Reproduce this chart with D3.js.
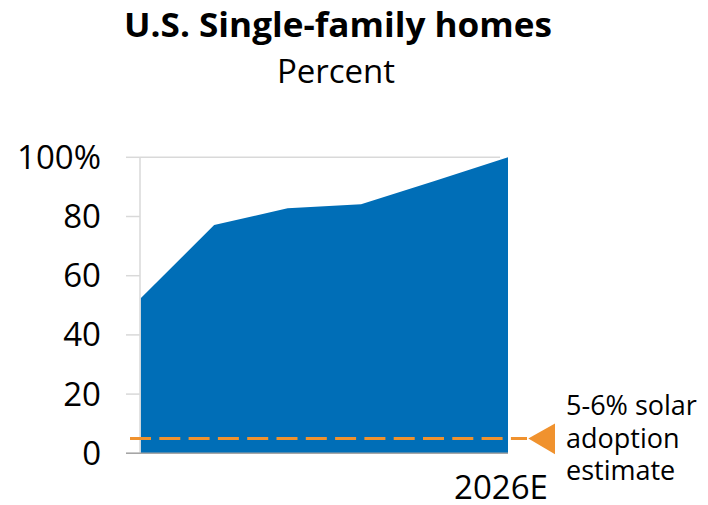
<!DOCTYPE html>
<html><head><meta charset="utf-8">
<script src="https://cdn.jsdelivr.net/npm/d3@7"></script>
<style>body{margin:0;background:#fff}svg{display:block}text{font-family:"Open Sans","Noto Sans",sans-serif;fill:#000}</style>
</head><body>
<svg id="c" width="708" height="505"></svg>
<script>
const categories = ["c1", "c2", "c3", "c4", "c5", "2026E"];
const values = [52.4, 77.1, 82.8, 84.1, 92, 100];
const yTicks = [0, 20, 40, 60, 80, 100];
const yTickLabels = ["0", "20", "40", "60", "80", "100%"];
const shownXLabels = ["2026E"];
const adoption = 5;
const annotationLines = ["5-6% solar", "adoption", "estimate"];
const title = "U.S. Single-family homes";
const subtitle = "Percent";

const svg = d3.select("#c");
const x = d3.scalePoint().domain(categories).range([140.7, 508]);
const y = d3.scaleLinear().domain([0, 100]).range([453.3, 157.3]);

// title
svg.append("text").attr("x", 338).attr("y", 37).attr("text-anchor", "middle")
  .style("font-size", "34px").style("font-weight", "bold")
  .attr("textLength", 428).attr("lengthAdjust", "spacingAndGlyphs").text(title);
svg.append("text").attr("x", 336).attr("y", 83).attr("text-anchor", "middle")
  .style("font-size", "33px").text(subtitle);

// area
const area = d3.area().x((d,i)=>x(categories[i])).y0(y(0)).y1(d=>y(d));
svg.append("path").datum(values).attr("d", area).attr("fill", "#006EB7");

// y axis line & ticks
const grid = "#D9D9D9";
svg.append("line").attr("x1", 140).attr("x2", 140).attr("y1", y(100)).attr("y2", y(0))
  .attr("stroke", grid).attr("stroke-width", 1.5);
svg.selectAll(".tk").data(yTicks).enter().append("line")
  .attr("x1", 126).attr("x2", 140).attr("y1", d=>y(d)).attr("y2", d=>y(d))
  .attr("stroke", grid).attr("stroke-width", 1.5);
svg.append("line").attr("x1", 140).attr("x2", x(categories[categories.length-1]) - 8)
  .attr("y1", y(100)).attr("y2", y(100)).attr("stroke", grid).attr("stroke-width", 1.5);
svg.append("line").attr("x1", 126).attr("x2", x(categories[categories.length-1]))
  .attr("y1", y(0)).attr("y2", y(0)).attr("stroke", "#A6A6A6").attr("stroke-width", 1.5);

svg.selectAll(".yl").data(yTicks).enter().append("text")
  .attr("x", 101).attr("y", d=>y(d)).attr("dy", "0.35em").attr("text-anchor", "end")
  .style("font-size", "33px").text((d,i)=>yTickLabels[i]);

// x label
svg.selectAll(".xl").data(shownXLabels).enter().append("text")
  .attr("x", d=>x(d) - 7).attr("y", 499).attr("text-anchor", "middle")
  .style("font-size", "33px").text(d=>d);

// dashed adoption line
const orange = "#F0922E";
svg.append("line").attr("x1", 130).attr("x2", 527).attr("y1", y(adoption)).attr("y2", y(adoption))
  .attr("stroke", orange).attr("stroke-width", 3).attr("stroke-dasharray", "21 8.3");
const ty = y(adoption);
svg.append("path").attr("d", `M528.3,${ty} L555,${ty-15} L555,${ty+15.7} Z`).attr("fill", orange);

const ann = svg.append("text").attr("x", 566).attr("y", 415).style("font-size", "27px");
ann.selectAll("tspan").data(annotationLines).enter().append("tspan")
  .attr("x", 566).attr("dy", (d,i)=> i ? 32.5 : 0).text(d=>d);
</script>
</body></html>
